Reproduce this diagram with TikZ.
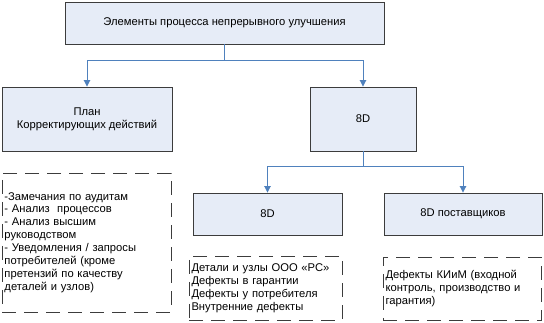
\documentclass[tikz,border=0pt]{standalone}
\usepackage{fontspec}
\setmainfont{Liberation Sans}
\usetikzlibrary{arrows.meta}

\definecolor{boxfill}{RGB}{230,236,247}
\definecolor{linkblue}{RGB}{79,129,189}
\definecolor{framegray}{RGB}{60,60,60}

\begin{document}
\begin{tikzpicture}[
    x=1pt, y=-1pt,
    font=\fontsize{11.2}{12.9}\selectfont,
    block/.style={draw=framegray, fill=boxfill, line width=0.9pt, align=center,
        minimum width=#1, inner sep=2pt},
    block/.default=150pt,
    notes/.style={draw=framegray, dashed, dash pattern=on 14pt off 8pt,
        line width=0.7pt, align=left, inner sep=2.5pt},
    conn/.style={draw=linkblue, line width=0.9pt,
        -{Triangle[width=6.5pt,length=6.5pt]}}
]

    \useasboundingbox (0,0) rectangle (544,323);

    % Blocks
    \node[block=319pt, minimum height=42pt] (top) at (224.5,23)
        {Элементы процесса непрерывного улучшения};
    \node[block=170pt, minimum height=64pt] (plan) at (87,119)
        {План\\Корректирующих действий};
    \node[block=106pt, minimum height=64pt] (d8) at (363,119) {8D};
    \node[block=149pt, minimum height=42pt] (d8own) at (267.5,214) {8D};
    \node[block=158pt, minimum height=42pt] (d8sup) at (463,214) {8D поставщиков};

    % Notes under blocks
    \node[notes, minimum width=169pt, minimum height=139pt, text width=164pt]
        (planlist) at (86.5,242.5)
        {-Замечания по аудитам\\
         - Анализ\ \ процессов\\
         - Анализ высшим\\
         руководством\\
         - Уведомления / запросы\\
         потребителей (кроме\\
         претензий по качеству\\
         деталей и узлов)};
    \node[notes, minimum width=153pt, minimum height=64pt, text width=148pt]
        (ownlist) at (265.5,288)
        {Детали и узлы ООО «РС»\\
         Дефекты в гарантии\\
         Дефекты у потребителя\\
         Внутренние дефекты};
    \node[notes, minimum width=158pt, minimum height=63pt, text width=153pt]
        (suplist) at (462,288.5)
        {Дефекты КИиМ (входной\\
         контроль, производство и\\
         гарантия)};

    % Connectors
    \draw[conn] (top.south) -- ++(0,16) -| (plan.north);
    \draw[conn] (top.south) -- ++(0,16) -| (d8.north);
    \draw[conn] (d8.south) -- ++(0,15) -| (d8own.north);
    \draw[conn] (d8.south) -- ++(0,15) -| (d8sup.north);

\end{tikzpicture}
\end{document}
